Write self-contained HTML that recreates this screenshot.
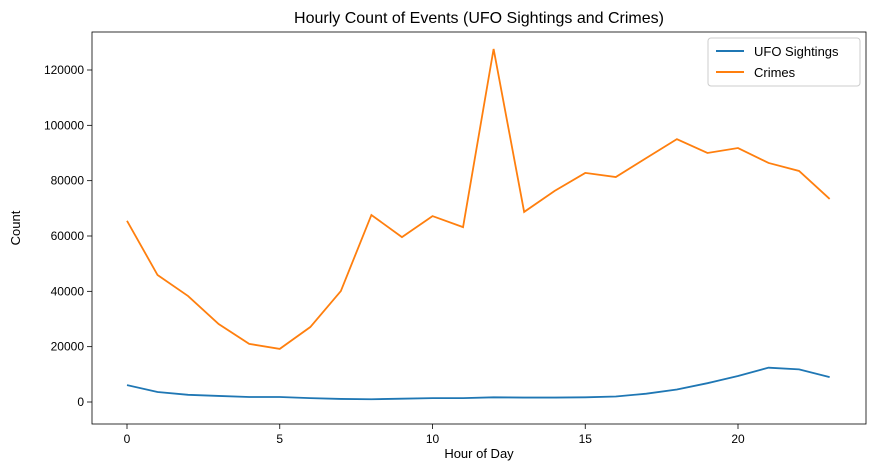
<!DOCTYPE html>
<html><head><meta charset="utf-8"><style>
body{margin:0;background:#fff;}
svg{display:block;font-family:"Liberation Sans","DejaVu Sans",sans-serif;}
</style></head><body>
<svg id="chart" width="876" height="470">
<text x="479" y="23" text-anchor="middle" font-size="16">Hourly Count of Events (UFO Sightings and Crimes)</text>
<g id="axes"></g>
<rect x="92" y="32" width="774" height="392" fill="none" stroke="#000" stroke-width="0.8"/>
<text x="479" y="458" text-anchor="middle" font-size="13">Hour of Day</text>
<text transform="translate(20,228) rotate(-90)" text-anchor="middle" font-size="13">Count</text>
<g>
<rect x="708" y="38" width="152" height="48" fill="#fff" stroke="#ccc" rx="3"/>
<line x1="716" y1="51" x2="744" y2="51" stroke="#1f77b4" stroke-width="2"/>
<text x="754" y="56" font-size="13">UFO Sightings</text>
<line x1="716" y1="72" x2="744" y2="72" stroke="#ff7f0e" stroke-width="2"/>
<text x="754" y="77" font-size="13">Crimes</text>
</g>
</svg>
<script>
const hours=[0,1,2,3,4,5,6,7,8,9,10,11,12,13,14,15,16,17,18,19,20,21,22,23];
const ufo=[6100,3600,2600,2200,1800,1800,1400,1100,1000,1200,1400,1400,1700,1600,1600,1700,2000,3000,4500,6800,9400,12400,11800,9000];
const crimes=[65500,45900,38300,28200,21000,19200,27100,40100,67600,59600,67200,63200,127600,68700,76300,82800,81300,88200,95000,90000,91800,86400,83500,73400];
const xTicks=[0,5,10,15,20];
const yTicks=[0,20000,40000,60000,80000,100000,120000];
const NS="http://www.w3.org/2000/svg";
const X=h=>127+h*30.55;
const Y=v=>402-v*0.0027667;
const svg=document.getElementById('chart');
const g=document.getElementById('axes');
function mk(t,a){const e=document.createElementNS(NS,t);for(const k in a)e.setAttribute(k,a[k]);return e;}
xTicks.forEach(t=>{
 const l=mk('line',{x1:X(t),x2:X(t),y1:424,y2:429,stroke:'#000','stroke-width':0.8});
 
 
 g.appendChild(l);
 const tx=mk('text',{x:X(t),y:443,'text-anchor':'middle','font-size':12});
 
 
 tx.textContent=t;g.appendChild(tx);
});
yTicks.forEach(t=>{
 const l=mk('line',{x1:87,x2:92,y1:Y(t),y2:Y(t),stroke:'#000','stroke-width':0.8});
 
 
 g.appendChild(l);
 const tx=mk('text',{x:84,y:Y(t)+4,'text-anchor':'end','font-size':12});
 
 
 tx.textContent=t;g.appendChild(tx);
});
function line(vals,color,name){
 const p=mk('polyline',{points:vals.map((v,i)=>X(hours[i])+','+Y(v)).join(' '),fill:'none',stroke:color,'stroke-width':1.8});
 
 
 g.appendChild(p);
}
line(ufo,'#1f77b4','ufo-sightings-line');
line(crimes,'#ff7f0e','crimes-line');
</script>
</body></html>
